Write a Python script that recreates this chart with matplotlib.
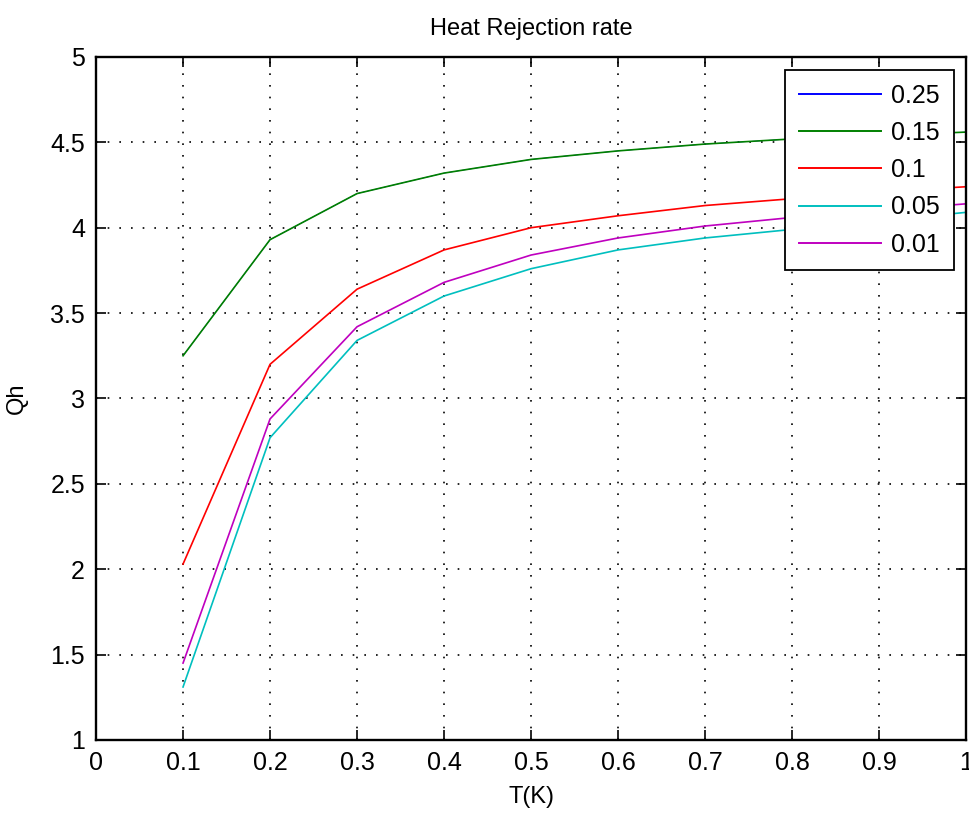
import matplotlib
matplotlib.use('Agg')
import matplotlib.pyplot as plt
import numpy as np

plt.rcParams['font.family'] = ['Liberation Sans', 'DejaVu Sans']

# temperatures
T = [0.1, 0.2, 0.3, 0.4, 0.5, 0.6, 0.7, 0.8, 0.9, 1.0]

# Qh curves, one per parameter value
labels = ['0.25', '0.15', '0.1', '0.05', '0.01']
colors = ['#0000ff', '#008000', '#ff0000', '#00bfbf', '#bf00bf']
q_025 = [3.25, 3.93, 4.20, 4.32, 4.40, 4.45, 4.49, 4.52, 4.54, 4.56]
q_015 = [3.25, 3.93, 4.20, 4.32, 4.40, 4.45, 4.49, 4.52, 4.54, 4.56]
q_01 = [2.03, 3.20, 3.64, 3.87, 4.00, 4.07, 4.13, 4.17, 4.21, 4.24]
q_005 = [1.31, 2.77, 3.34, 3.60, 3.76, 3.87, 3.94, 3.99, 4.04, 4.09]
q_001 = [1.45, 2.88, 3.42, 3.68, 3.84, 3.94, 4.01, 4.06, 4.10, 4.14]
series = [q_025, q_015, q_01, q_005, q_001]

fig = plt.figure(figsize=(9.70, 8.14), dpi=100)
ax = fig.add_axes([0.099, 0.091, 0.897, 0.839])

for i, (y, c, lab) in enumerate(zip(series, colors, labels)):
    # the 0.25 curve sits exactly under the 0.15 one
    lw = 0.5 if i == 0 else 1.2
    ax.plot(T, y, color=c, linewidth=lw, label=lab)

ax.set_xlim(0, 1)
ax.set_ylim(1, 5)
ax.set_xticks(np.arange(0, 1.01, 0.1))
ax.set_xticklabels(['0', '0.1', '0.2', '0.3', '0.4', '0.5', '0.6', '0.7', '0.8', '0.9', '1'])
ax.set_yticks(np.arange(1, 5.01, 0.5))
ax.set_yticklabels(['1', '1.5', '2', '2.5', '3', '3.5', '4', '4.5', '5'])
ax.tick_params(direction='in', top=True, right=True, length=7, width=1.2, labelsize=18)
ax.tick_params(axis='x', pad=8)
ax.tick_params(axis='y', pad=8)
ax.grid(True, color='black', linestyle=(0, (1, 6)), linewidth=1.2)
for s in ax.spines.values():
    s.set_linewidth(1.7)

ax.set_title('Heat Rejection rate', fontsize=17, pad=16)
ax.set_xlabel('T(K)', fontsize=17, labelpad=8)
ax.set_ylabel('Qh', fontsize=17, labelpad=16)

leg = ax.legend(loc='upper right', bbox_to_anchor=(0.986, 0.981), fontsize=18,
                handlelength=3.3, fancybox=False, framealpha=1, edgecolor='black',
                borderpad=0.55, labelspacing=0.53, borderaxespad=0, handletextpad=0.4)
leg.get_frame().set_linewidth(1.3)
for h in leg.get_lines():
    h.set_linewidth(1.4)

plt.savefig('out.png', dpi=100)
